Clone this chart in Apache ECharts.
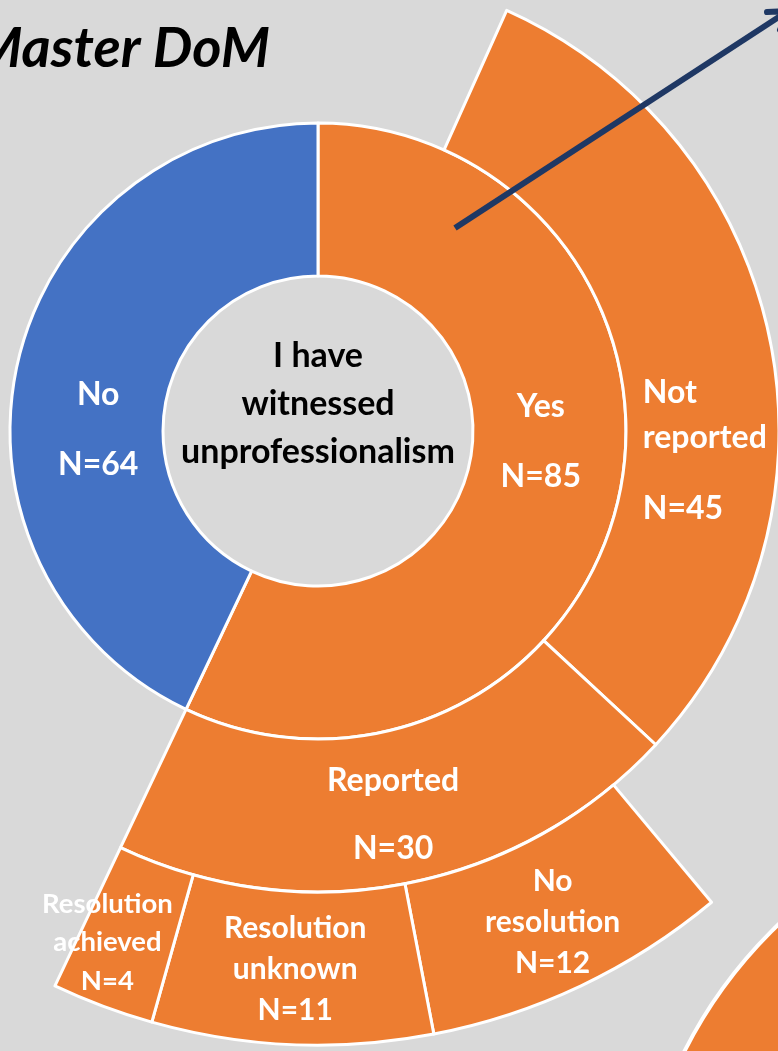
<!DOCTYPE html>
<html><head><meta charset="utf-8">
<script src="https://cdn.jsdelivr.net/npm/echarts@6/dist/echarts.min.js"></script>
<style>html,body{margin:0;padding:0;background:#d9d9d9;overflow:hidden}#c{width:778px;height:1051px}</style>
</head><body><div id="c"></div>
<script>
// ---- data ----
const titleText = 'Master DoM';
const centerLines = ['I have', 'witnessed', 'unprofessionalism'];
const ring1Names = ['Yes', 'No'];
const ring1Values = [85, 64];
const ring2Names = ['Not reported', 'Reported'];   // children of "Yes"
const ring2Values = [45, 30];
const ring3Names = ['No resolution', 'Resolution unknown', 'Resolution achieved']; // children of "Reported"
const ring3Values = [12, 11, 4];

// ---- styles ----
const ORANGE = '#ED7D31', BLUE = '#4472C4', BG = '#d9d9d9', NAVY = '#1F3864';
const CX = 318, CY = 431;
const RADII = [155, 308, 461, 614];
const FONT = 'Lato';

// label layout styles (font, line heights, nudge from slice centre)
const labelStyle = {
  'Yes':                 {lines: ['Yes'], fs: 32, lh: 35, blank: 35, shift: [-6, -41]},
  'No':                  {lines: ['No'], fs: 32, lh: 35, blank: 35, shift: [9, 50]},
  'Not reported':        {lines: ['Not', 'reported'], fs: 32, lh: 45, blank: 26, shift: [10, 97], width: 130, align: 'left'},
  'Reported':            {lines: ['Reported'], fs: 32, lh: 34, blank: 34, shift: [2, 3]},
  'No resolution':       {lines: ['No', 'resolution'], fs: 30, lh: 41, blank: 0, shift: [3, 3]},
  'Resolution unknown':  {lines: ['Resolution', 'unknown'], fs: 30, lh: 41, blank: 0, shift: [0, -2]},
  'Resolution achieved': {lines: ['Resolution', 'achieved'], fs: 27.5, lh: 38.5, blank: 0, shift: [-21, 5]}
};

function makeLabel(name, value) {
  const c = labelStyle[name];
  const parts = c.lines.map(l => '{t|' + l + '}');
  if (c.blank) parts.push('{g| }');
  parts.push('{t|N=' + value + '}');
  const dx = c.shift[0], dy = c.shift[1];
  const t = {fontSize: c.fs, lineHeight: c.lh, fontFamily: FONT, fontWeight: 'bold', color: '#fff'};
  if (c.width) { t.width = c.width; t.align = c.align; }
  return {
    show: true,
    position: 'inside',
    formatter: parts.join('\n'),
    padding: [Math.max(0, 2 * dy), Math.max(0, -2 * dx), Math.max(0, -2 * dy), Math.max(0, 2 * dx)],
    rich: {
      t: t,
      g: {fontSize: 10, lineHeight: c.blank || 1, fontFamily: FONT}
    }
  };
}

function gap(v) {
  return {value: v, name: '', itemStyle: {color: 'rgba(0,0,0,0)', borderWidth: 0},
          label: {show: false}, emphasis: {disabled: true}, tooltip: {show: false}};
}
function slice(name, value, color) {
  return {value: value, name: name, itemStyle: {color: color}, label: makeLabel(name, value)};
}

const sum = a => a.reduce((s, v) => s + v, 0);
const yesV = ring1Values[0], noV = ring1Values[1];
const gapYes = yesV - sum(ring2Values);          // unclassified "Yes"
const gapRep = ring2Values[1] - sum(ring3Values); // unclassified "Reported"

const ring1Data = [slice(ring1Names[0], yesV, ORANGE), slice(ring1Names[1], noV, BLUE)];
const ring2Data = [gap(gapYes)]
  .concat(ring2Names.map((n, i) => slice(n, ring2Values[i], ORANGE)))
  .concat([gap(noV)]);
const ring3Data = [gap(gapYes + ring2Values[0] + gapRep)]
  .concat(ring3Names.map((n, i) => slice(n, ring3Values[i], ORANGE)))
  .concat([gap(noV)]);

function ring(data, r0, r1) {
  return {
    type: 'pie', center: [CX, CY], radius: [r0, r1], startAngle: 90, clockwise: true,
    avoidLabelOverlap: false, labelLine: {show: false}, silent: true,
    itemStyle: {borderColor: '#fff', borderWidth: 3},
    emphasis: {disabled: true},
    data: data
  };
}

const chart = echarts.init(document.getElementById('c'), null, {renderer: 'canvas'});
chart.setOption({
  backgroundColor: BG,
  animation: false,
  series: [
    ring(ring1Data, RADII[0], RADII[1]),
    ring(ring2Data, RADII[1], RADII[2]),
    ring(ring3Data, RADII[2], RADII[3])
  ],
  graphic: [
    {type: 'circle', shape: {cx: 1103, cy: 1263, r: 469}, style: {fill: ORANGE, stroke: '#fff', lineWidth: 4}, z: 5},
    {type: 'text', x: 270, y: 49, style: {text: titleText, font: 'italic bold 56px ' + FONT, fill: '#000', align: 'right', verticalAlign: 'middle'}, z: 10},
    {type: 'text', x: CX, y: 404, style: {text: centerLines.join('\n'), font: 'bold 34px ' + FONT, fill: '#000', align: 'center', verticalAlign: 'middle', lineHeight: 48}, z: 10},
    {type: 'polyline', shape: {points: [[455, 228], [788, 11]]}, style: {stroke: NAVY, lineWidth: 6, lineCap: 'butt'}, z: 20},
    {type: 'polyline', shape: {points: [[767, 12], [788, 11], [780, 30]]}, style: {stroke: NAVY, fill: null, lineWidth: 6, lineCap: 'round', lineJoin: 'round'}, z: 20}
  ]
});
</script></body></html>
